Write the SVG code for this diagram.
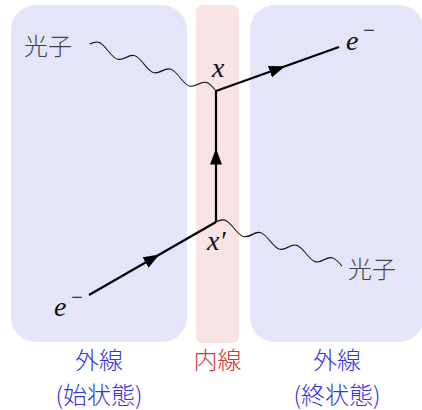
<svg xmlns="http://www.w3.org/2000/svg" width="422" height="410" viewBox="0 0 422 410">
<style>
.ext{fill:#e4e5f8}
.int{fill:#f8e4e4}
.cjk{font-family:"Noto Sans CJK JP","Noto Sans",sans-serif;font-size:24px;fill:#444;font-weight:300}
.lab{font-family:"Noto Sans CJK JP","Noto Sans",sans-serif;font-size:24px;text-anchor:middle;font-weight:300}
.blue{fill:#3434e2}
.red{fill:#d23636}
.m{font-family:"Liberation Serif","Times New Roman",serif;font-style:italic;font-size:28px;fill:#111}
.sup{font-style:normal;font-size:21px}
.fer{fill:none;stroke:#000;stroke-width:2.2;marker-mid:url(#arr)}
.pho{fill:none;stroke:#111;stroke-width:1.1}
</style>
<defs>
<marker id="arr" markerWidth="16" markerHeight="12" viewBox="0 0 16 12" refX="8" refY="6" orient="auto" markerUnits="userSpaceOnUse"><path d="M0,0 L16,6 L0,12 z" fill="#000"/></marker>
<path id="wave" d="M0,0 c2.935,-2.56 5.743,-5 9,-5 s6.065,2.44 9,5 s5.743,5 9,5 s6.065,-2.44 9,-5 s5.743,-5 9,-5 s6.065,2.44 9,5 s5.743,5 9,5 s6.065,-2.44 9,-5 s5.743,-5 9,-5 s6.065,2.44 9,5 s5.743,5 9,5 s6.065,-2.44 9,-5 s5.743,-5 9,-5 s6.065,2.44 9,5"/>
</defs>
<g id="regions">
<g id="initial"><rect class="ext" x="11" y="5" width="176" height="337" rx="25"/></g>
<g id="internal"><rect class="int" x="196" y="5" width="43" height="338" rx="6"/></g>
<g id="final"><rect class="ext" x="250" y="5" width="174" height="337" rx="25"/></g>
</g>
<g id="connectors">
<use href="#wave" class="pho" vector-effect="non-scaling-stroke" transform="translate(90,44) matrix(1,0.373,0,1,0,0)"/>
<use href="#wave" class="pho" vector-effect="non-scaling-stroke" transform="translate(216,222) matrix(1,0.35,0,1,0,0)"/>
<path class="fer" d="M89,295 L152.5,258.5 L216,222"/>
<path class="fer" d="M216,222 L216,156.5 L216,91"/>
<path class="fer" d="M216,91 L277.5,69 L339,47"/>
</g>
<g id="vertex-x"><text class="m" x="212" y="77">x</text></g>
<g id="vertex-xp"><text class="m" x="207" y="250">x′</text></g>
<g id="photon-in"><text class="cjk" x="24" y="55">光子</text></g>
<g id="photon-out"><text class="cjk" x="348" y="278">光子</text></g>
<g id="electron-out"><text class="m"><tspan x="346" y="50">e</tspan><tspan class="sup" x="363" y="37">−</tspan></text></g>
<g id="electron-in"><text class="m"><tspan x="54" y="316">e</tspan><tspan class="sup" x="71" y="304">−</tspan></text></g>
<g id="labels">
<text class="lab blue"><tspan x="99" y="368.5">外線</tspan><tspan x="99" y="404">(始状態)</tspan></text>
<text class="lab red" x="217.5" y="368.5">内線</text>
<text class="lab blue"><tspan x="337" y="368.5">外線</tspan><tspan x="337" y="404">(終状態)</tspan></text>
</g>
</svg>
